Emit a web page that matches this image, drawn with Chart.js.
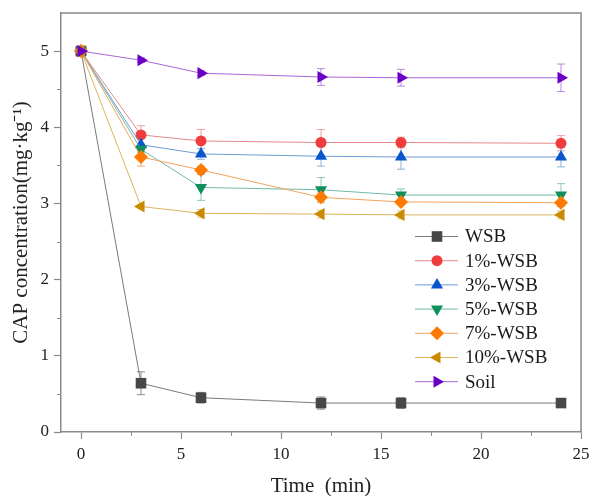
<!DOCTYPE html>
<html>
<head>
<meta charset="utf-8">
<script src="https://cdn.jsdelivr.net/npm/chart.js@4.4.1/dist/chart.umd.min.js"></script>
<style>
  html, body { margin: 0; padding: 0; background: #fff; }
</style>
</head>
<body>
<canvas id="capChart" width="589" height="496"></canvas>
<script>
// sampling times (min)
const times = [0, 3, 6, 12, 16, 24];

// CAP concentration per treatment (mg/kg)
const wsb    = [5.00, 0.64, 0.45, 0.38, 0.38, 0.38];
const wsb1   = [5.00, 3.90, 3.82, 3.80, 3.80, 3.79];
const wsb3   = [5.00, 3.77, 3.65, 3.62, 3.61, 3.61];
const wsb5   = [5.00, 3.71, 3.21, 3.18, 3.11, 3.11];
const wsb7   = [5.00, 3.61, 3.44, 3.08, 3.02, 3.01];
const wsb10  = [5.00, 2.96, 2.87, 2.86, 2.85, 2.85];
const soil   = [5.00, 4.88, 4.71, 4.66, 4.65, 4.65];

// error bars (+/-)
const wsbErr   = [0, 0.15, 0.07, 0.08, 0.07, 0.02];
const wsb1Err  = [0, 0.12, 0.15, 0.17, 0.07, 0.10];
const wsb3Err  = [0, 0.08, 0.07, 0.13, 0.16, 0.13];
const wsb5Err  = [0, 0.04, 0.17, 0.16, 0.08, 0.15];
const wsb7Err  = [0, 0.12, 0.05, 0.07, 0.03, 0.03];
const wsb10Err = [0, 0.02, 0.05, 0.05, 0.05, 0.05];
const soilErr  = [0, 0.03, 0.03, 0.11, 0.11, 0.18];

const seriesNames = ['WSB', '1%-WSB', '3%-WSB', '5%-WSB', '7%-WSB', '10%-WSB', 'Soil'];

// axis ticks
const xTicks = [0, 5, 10, 15, 20, 25];
const xMinor = [2.5, 7.5, 12.5, 17.5, 22.5];
const yTicks = [0, 1, 2, 3, 4, 5];
const yMinor = [0.5, 1.5, 2.5, 3.5, 4.5];

const SERIF = '"Liberation Serif", "Times New Roman", serif';
const AXIS_COLOR = '#8a8a8a';

// marker look for each series
const looks = [
    { fill: '#474747', line: '#7a7a7a', err: '#8a8a8a', style: 'rect',     rot: 0,   r: 7.5 },
    { fill: '#f03c3c', line: '#e48a8a', err: '#eca0a0', style: 'circle',   rot: 0,   r: 5.5 },
    { fill: '#0a55cc', line: '#6f9bd6', err: '#8fb0dc', style: 'triangle', rot: 0,   r: 7 },
    { fill: '#0f8f5c', line: '#6fb9a5', err: '#8fc8b8', style: 'triangle', rot: 180, r: 7 },
    { fill: '#ff7a00', line: '#f3a35a', err: '#f2b27a', style: 'rectRot',  rot: 0,   r: 7 },
    { fill: '#c98a00', line: '#dcb45a', err: '#e2c07a', style: 'triangle', rot: -90, r: 7 },
    { fill: '#6a00c8', line: '#a866d8', err: '#bb88e0', style: 'triangle', rot: 90,  r: 7 }
];

const values = [wsb, wsb1, wsb3, wsb5, wsb7, wsb10, soil];
const errors = [wsbErr, wsb1Err, wsb3Err, wsb5Err, wsb7Err, wsb10Err, soilErr];

const datasets = seriesNames.map(function (name, i) {
    const lk = looks[i];
    return {
        label: name,
        data: times.map(function (t, j) { return { x: t, y: values[i][j] }; }),
        borderColor: lk.line,
        borderWidth: 1,
        backgroundColor: lk.fill,
        pointBackgroundColor: lk.fill,
        pointBorderColor: lk.fill,
        pointBorderWidth: 0,
        pointStyle: lk.style,
        pointRotation: lk.rot,
        pointRadius: lk.r,
        pointHoverRadius: lk.r,
        tension: 0,
        order: seriesNames.length - i
    };
});

// error bars, frame, minor ticks and the inset legend
const extras = {
    id: 'extras',
    beforeDatasetsDraw(chart) {
        const ctx = chart.ctx;
        const xs = chart.scales.x, ys = chart.scales.y;
        ctx.save();
        ctx.lineWidth = 1;
        errors.forEach(function (errs, i) {
            ctx.strokeStyle = looks[i].err;
            errs.forEach(function (e, j) {
                if (e <= 0) return;
                const px = xs.getPixelForValue(times[j]);
                const top = ys.getPixelForValue(values[i][j] + e);
                const bot = ys.getPixelForValue(values[i][j] - e);
                ctx.beginPath();
                ctx.moveTo(px, top); ctx.lineTo(px, bot);
                ctx.moveTo(px - 4, top); ctx.lineTo(px + 4, top);
                ctx.moveTo(px - 4, bot); ctx.lineTo(px + 4, bot);
                ctx.stroke();
            });
        });
        ctx.restore();
    },
    afterDraw(chart) {
        const ctx = chart.ctx;
        const a = chart.chartArea;
        const xs = chart.scales.x, ys = chart.scales.y;
        ctx.save();
        // top and right frame
        ctx.strokeStyle = AXIS_COLOR;
        ctx.lineWidth = 1.5;
        ctx.beginPath();
        ctx.moveTo(a.left, a.top); ctx.lineTo(a.right, a.top); ctx.lineTo(a.right, a.bottom);
        ctx.stroke();
        // minor ticks
        ctx.lineWidth = 1;
        ctx.beginPath();
        xMinor.forEach(function (v) {
            const px = Math.round(xs.getPixelForValue(v)) + 0.5;
            ctx.moveTo(px, a.bottom); ctx.lineTo(px, a.bottom + 4);
        });
        yMinor.forEach(function (v) {
            const py = Math.round(ys.getPixelForValue(v)) + 0.5;
            ctx.moveTo(a.left, py); ctx.lineTo(a.left - 4, py);
        });
        ctx.stroke();

        // legend inside the plot
        const lx = 415, ly = 236.5, step = 24.2;
        ctx.font = '19px ' + SERIF;
        ctx.textBaseline = 'middle';
        ctx.textAlign = 'left';
        seriesNames.forEach(function (name, i) {
            const y = ly + i * step;
            const ds = chart.data.datasets[i];
            ctx.strokeStyle = looks[i].line;
            ctx.lineWidth = 1;
            ctx.beginPath();
            ctx.moveTo(lx, y); ctx.lineTo(lx + 43, y);
            ctx.stroke();
            ctx.fillStyle = looks[i].fill;
            ctx.strokeStyle = looks[i].fill;
            Chart.helpers.drawPoint(ctx, {
                pointStyle: ds.pointStyle,
                rotation: ds.pointRotation,
                radius: ds.pointRadius,
                borderWidth: 0
            }, lx + 22, y);
            ctx.fillStyle = '#1a1a1a';
            ctx.fillText(name, lx + 50, y + 1);
        });
        ctx.restore();
    }
};

new Chart(document.getElementById('capChart'), {
    type: 'line',
    data: { datasets: datasets },
    options: {
        responsive: false,
        animation: false,
        layout: { padding: { top: 13, right: 8, left: 0, bottom: 0 } },
        plugins: {
            legend: { display: false },
            tooltip: { enabled: false }
        },
        scales: {
            x: {
                type: 'linear',
                min: -1,
                max: 25,
                afterBuildTicks: function (scale) {
                    scale.ticks = xTicks.map(function (v) { return { value: v }; });
                },
                afterFit: function (scale) {
                    scale.height = 64;
                    scale.paddingLeft = 0;
                    scale.paddingRight = 0;
                },
                border: { color: AXIS_COLOR, width: 1.5 },
                grid: { drawOnChartArea: false, tickLength: 7, tickColor: AXIS_COLOR, tickWidth: 1.2 },
                ticks: { color: '#222', font: { family: SERIF, size: 17 }, padding: 5, maxRotation: 0 },
                title: {
                    display: true,
                    text: 'Time  (min)',
                    color: '#222',
                    font: { family: SERIF, size: 21 },
                    padding: { top: 4, bottom: -3 }
                }
            },
            y: {
                min: 0,
                max: 5.5,
                afterBuildTicks: function (scale) {
                    scale.ticks = yTicks.map(function (v) { return { value: v }; });
                },
                afterFit: function (scale) {
                    scale.width = 61;
                    scale.paddingTop = 0;
                    scale.paddingBottom = 0;
                },
                border: { color: AXIS_COLOR, width: 1.5 },
                grid: { drawOnChartArea: false, tickLength: 7, tickColor: AXIS_COLOR, tickWidth: 1.2 },
                ticks: { color: '#222', font: { family: SERIF, size: 17 }, padding: 5 },
                title: {
                    display: true,
                    text: 'CAP concentration(mg·kg⁻¹)',
                    color: '#222',
                    font: { family: SERIF, size: 21 },
                    padding: { top: 9, bottom: 0 }
                }
            }
        }
    },
    plugins: [extras]
});
</script>
</body>
</html>
